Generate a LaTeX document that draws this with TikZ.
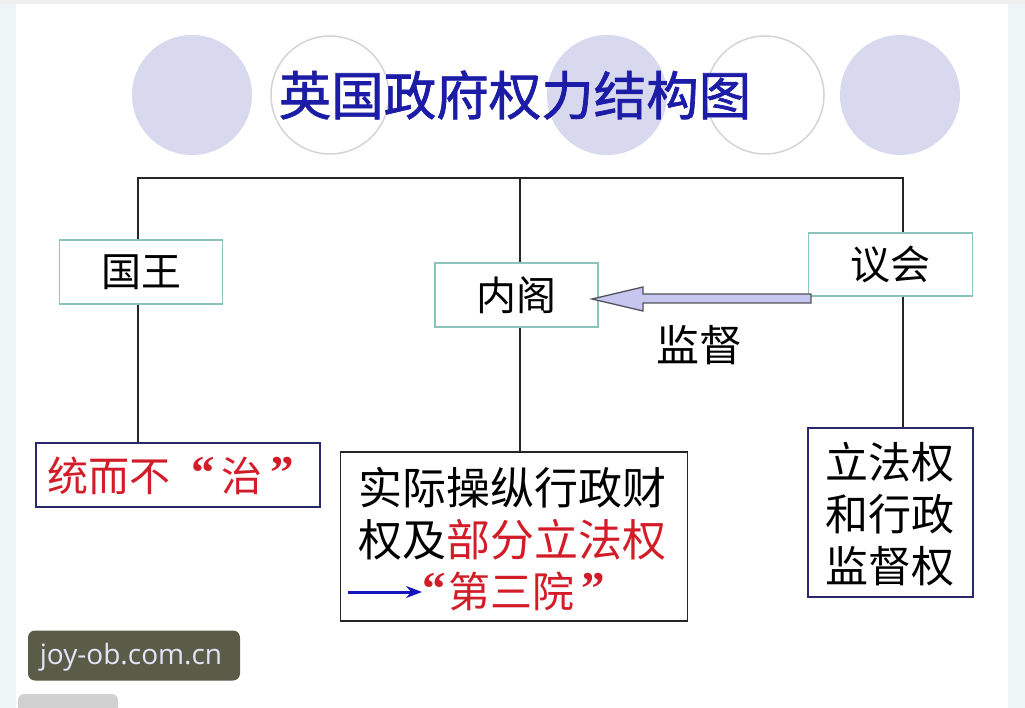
\documentclass[tikz,border=0pt]{standalone}
\usepackage{fontspec}
\newfontfamily\cjk{Noto Sans CJK SC}
\newfontfamily\cjktitle[FakeBold=1.3]{Noto Sans CJK SC}
\newfontfamily\qf{Liberation Serif}
\newfontfamily\wmfont{Open Sans}
\usetikzlibrary{arrows.meta}
\definecolor{edgecol}{HTML}{EEF5F5}
\definecolor{lav}{HTML}{D8D8EE}
\definecolor{ringcol}{HTML}{D4D4D4}
\definecolor{titleblue}{HTML}{1C1CA6}
\definecolor{tealbd}{HTML}{8CC4BC}
\definecolor{navybd}{HTML}{28286A}
\definecolor{redtxt}{HTML}{D21C28}
\definecolor{arrowfill}{HTML}{C6C6EE}
\definecolor{arrowbd}{HTML}{50505E}
\definecolor{wmbg}{HTML}{5A5C48}
\definecolor{wmtxt}{HTML}{E4E4F8}
\definecolor{smallblue}{HTML}{1414C0}
\newcommand{\myoq}{\raisebox{3pt}{\qf\bfseries\fontsize{47}{50}\selectfont “}}
\newcommand{\mycq}{\raisebox{3pt}{\qf\bfseries\fontsize{47}{50}\selectfont ”}}
\begin{document}
\begin{tikzpicture}[x=1pt,y=-1pt,
  conn/.style={draw=black!85,line width=1.2pt},
  headbox/.style={draw=tealbd,line width=1.5pt,fill=white,font=\cjk\fontsize{40}{44}\selectfont,inner sep=0pt},
  leafbox/.style={draw=navybd,line width=1.5pt,fill=white,inner sep=0pt},
  body/.style={font=\cjk\fontsize{44}{51}\selectfont,inner sep=0pt,anchor=west}]
\useasboundingbox (0,0) rectangle (1025,708);
\fill[white] (0,0) rectangle (1025,708);
\fill[edgecol] (0,0) rectangle (16,708);
\fill[edgecol] (1008,0) rectangle (1025,708);
\fill[black!6] (0,0) rectangle (1025,4);
% decorative circles
\fill[lav] (192,95) circle (60);
\draw[ringcol,line width=1.5pt,fill=white] (330,95) circle (59);
\fill[lav] (607,95) circle (60);
\draw[ringcol,line width=1.5pt,fill=white] (765,95) circle (59);
\fill[lav] (900,95) circle (60);
% title
\node[font=\cjktitle\fontsize{52.5}{56}\selectfont,text=titleblue,inner sep=0pt] (title) at (515,95) {英国政府权力结构图};
% top level boxes
\node[headbox,minimum width=163pt,minimum height=64pt] (king) at (141,272) {国王};
\node[headbox,minimum width=163pt,minimum height=64pt] (cab) at (516.5,295) {内阁};
\node[headbox,minimum width=164pt,minimum height=63pt] (parl) at (890.5,264.5) {议会};
% bottom boxes
\node[leafbox,minimum width=284pt,minimum height=64pt] (rule) at (178,475) {};
\node[font=\cjk\fontsize{41}{46}\selectfont,text=redtxt,inner sep=0pt,anchor=west] (ruletxt) at (47,476) {统而不\hspace{21pt}\myoq\hspace{7pt}治\hspace{8pt}\mycq};
\node[leafbox,draw=black!85,minimum width=347pt,minimum height=169pt] (mid) at (514,536.5) {};
\node[body] (m1) at (358,488) {实际操纵行政财};
\node[body] (m2) at (358,540) {权及\textcolor{redtxt}{部分立法权}};
\node[body,font=\cjk\fontsize{42}{48}\selectfont,text=redtxt] (m3) at (422,591) {\myoq\hspace{3pt}第三院\hspace{7pt}\mycq};
\coordinate (ma) at (348,592);
\draw[smallblue,line width=3pt,-{Stealth[length=16pt,width=12pt]}] (ma) -- (m3.west |- ma);
\node[leafbox,minimum width=165pt,minimum height=169pt] (leg) at (890.5,512.5) {};
\node[font=\cjk\fontsize{43}{52}\selectfont,align=center,inner sep=0pt] (legtxt) at (890,514) {立法权\\和行政\\监督权};
% connectors
\coordinate (bl) at (138,178);
\coordinate (bm) at (520,178);
\coordinate (br) at (903,178);
\draw[conn] (bl |- king.north) -- (bl) -- (br) -- (br |- parl.north);
\draw[conn] (bm) -- (bm |- cab.north);
\draw[conn] (bl |- king.south) -- (bl |- rule.north);
\draw[conn] (bm |- cab.south) -- (bm |- mid.north);
\draw[conn] (br |- parl.south) -- (br |- leg.north);
% supervision block arrow
\coordinate (tip) at (592,299);
\coordinate (tail) at (811,298.5);
\draw[arrowbd,line width=1.3pt,fill=arrowfill,line join=miter]
  (tip) -- (643,287) -- (643,294) -- (tail |- 0,294) -- (tail |- 0,303) -- (643,303) -- (643,311) -- cycle;
\node[font=\cjk\fontsize{43}{48}\selectfont,inner sep=0pt] (sup) at (699,345) {监督};
% watermark
\node[fill=wmbg,rounded corners=7pt,minimum width=212pt,minimum height=50pt,inner sep=0pt] (wm) at (134,655.5) {};
\node[font=\wmfont\fontsize{28}{32}\selectfont,text=wmtxt,inner sep=0pt] (wmtext) at (131,657) {joy-ob.com.cn};
\fill[black!18,rounded corners=6pt] (18,694) rectangle (118,716);
\end{tikzpicture}
\end{document}
